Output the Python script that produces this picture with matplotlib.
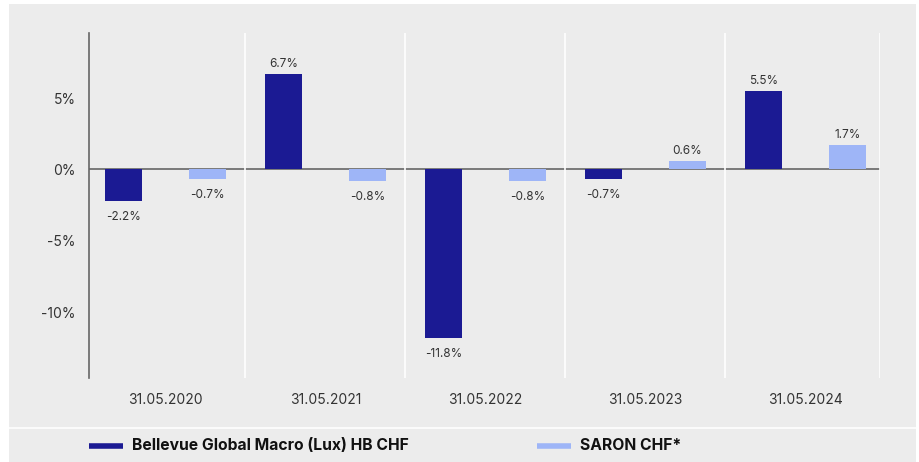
import numpy as np
import matplotlib
matplotlib.use("Agg")
import matplotlib.pyplot as plt
from matplotlib.patches import Rectangle
from matplotlib.lines import Line2D

# data
dates = ["31.05.2020", "31.05.2021", "31.05.2022", "31.05.2023", "31.05.2024"]
fund = [-2.2, 6.7, -11.8, -0.7, 5.5]
saron = [-0.7, -0.8, -0.8, 0.6, 1.7]
series_names = ["Bellevue Global Macro (Lux) HB CHF", "SARON CHF*"]
yticks = [-10, -5, 0, 5]

DARK = "#1b1a93"
LIGHT = "#9eb5f7"
GREY_BG = "#ececec"
TEXT = "#333333"

plt.rcParams["font.family"] = ["Inter", "DejaVu Sans"]

W, H = 920, 462
fig = plt.figure(figsize=(W / 100, H / 100), dpi=100)
fig.patch.set_facecolor("white")

# grey panel behind chart and legend band
fig.patches.append(Rectangle((9 / W, 0), 907 / W, 458 / H, transform=fig.transFigure,
                             facecolor=GREY_BG, edgecolor="none", zorder=-2))
fig.lines.append(Line2D([9 / W, 916 / W], [1 - 428 / H] * 2, transform=fig.transFigure,
                        color="white", lw=1.2, zorder=-1))

ax = fig.add_axes([89 / W, 1 - 378 / H, 791 / W, 345 / H])
ax.set_zorder(5)
ax.set_facecolor("none")

x = np.arange(len(dates))
width = 0.231
off = 0.2625
ax.bar(x - off, fund, width, color=DARK, zorder=3)
ax.bar(x + off, saron, width, color=LIGHT, zorder=3)

ax.set_xlim(-0.478, len(dates) - 0.534)
ax.set_ylim(-14.6, 9.55)

ax.axhline(0, color="#666666", lw=1.2, zorder=2)
for b in list(np.arange(0.5, len(dates) - 1, 1.0)) + [len(dates) - 0.534]:
    ax.axvline(b, color="white", lw=1.2, zorder=2.5)

for xs, vals in ((x - off, fund), (x + off, saron)):
    for xi, v in zip(xs, vals):
        if v >= 0:
            ax.annotate(f"{v:.1f}%", (xi, v), xytext=(0, 3), textcoords="offset points",
                        ha="center", va="bottom", fontsize=8.5, color=TEXT)
        else:
            ax.annotate(f"{v:.1f}%", (xi, v), xytext=(0, -7), textcoords="offset points",
                        ha="center", va="top", fontsize=8.5, color=TEXT)

ax.set_yticks(yticks)
ax.set_yticklabels([f"{t}%" for t in yticks])
ax.set_xticks(x)
ax.set_xticklabels(dates)
ax.tick_params(axis="both", length=0, labelsize=10, colors=TEXT)
ax.tick_params(axis="y", pad=9.5)
ax.tick_params(axis="x", pad=11)

for s in ["top", "right", "bottom"]:
    ax.spines[s].set_visible(False)
ax.spines["left"].set_color("#666666")
ax.spines["left"].set_linewidth(1.2)

# legend in the bottom band
ly = 1 - 446 / H
for (x0, name, col) in ((89, series_names[0], DARK), (537, series_names[1], LIGHT)):
    fig.lines.append(Line2D([x0 / W, (x0 + 34) / W], [ly, ly], transform=fig.transFigure,
                            color=col, lw=4, solid_capstyle="butt"))
    fig.text((x0 + 43) / W, ly, name, ha="left", va="center", fontsize=11.3,
             fontweight="bold", color="#111111")

fig.savefig("out.png", dpi=100, facecolor=fig.get_facecolor())
